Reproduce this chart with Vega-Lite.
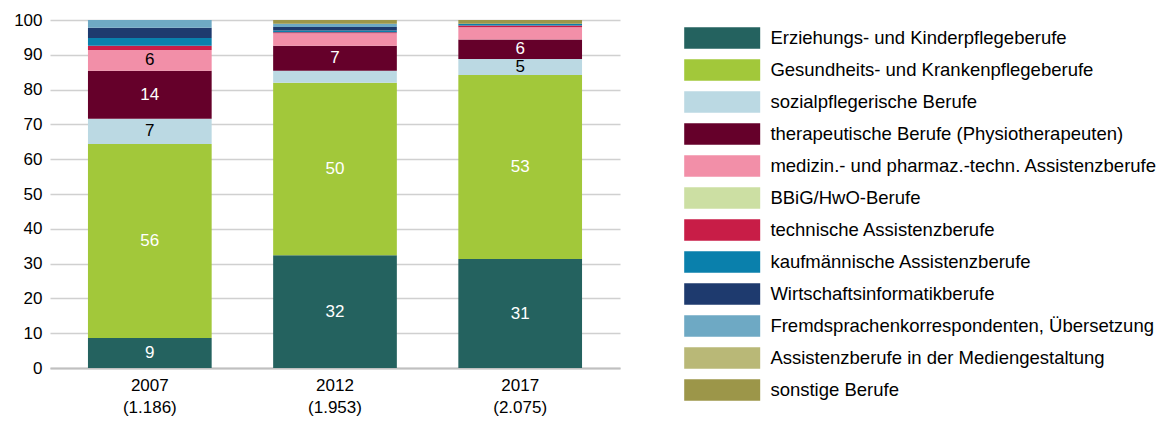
{
  "$schema": "https://vega.github.io/schema/vega-lite/v6.json",
  "autosize": {"type": "none"},
  "width": 570,
  "height": 348,
  "padding": {"left": 50, "top": 20, "right": 545, "bottom": 54},
  "background": "white",
  "config": {
    "font": "Liberation Sans",
    "view": {"stroke": null},
    "axisY": {
      "values": [0, 10, 20, 30, 40, 50, 60, 70, 80, 90, 100],
      "labelFontSize": 17,
      "labelColor": "#000000",
      "labelPadding": 8,
      "ticks": false,
      "domain": false,
      "gridColor": "#d0d0d0",
      "gridWidth": 1.5
    }
  },
  "data": {
    "values": [
      {"gruppe": "2007 (1.186)", "beruf": "Erziehungs- und Kinderpflegeberufe", "anteil": 8.6},
      {"gruppe": "2007 (1.186)", "beruf": "Gesundheits- und Krankenpflegeberufe", "anteil": 55.8},
      {"gruppe": "2007 (1.186)", "beruf": "sozialpflegerische Berufe", "anteil": 7.2},
      {"gruppe": "2007 (1.186)", "beruf": "therapeutische Berufe (Physiotherapeuten)", "anteil": 13.8},
      {"gruppe": "2007 (1.186)", "beruf": "medizin.- und pharmaz.-techn. Assistenzberufe", "anteil": 6.0},
      {"gruppe": "2007 (1.186)", "beruf": "technische Assistenzberufe", "anteil": 1.2},
      {"gruppe": "2007 (1.186)", "beruf": "kaufmännische Assistenzberufe", "anteil": 2.2},
      {"gruppe": "2007 (1.186)", "beruf": "Wirtschaftsinformatikberufe", "anteil": 3.0},
      {"gruppe": "2007 (1.186)", "beruf": "Fremdsprachenkorrespondenten, Übersetzung", "anteil": 2.2},
      {"gruppe": "2012 (1.953)", "beruf": "Erziehungs- und Kinderpflegeberufe", "anteil": 32.4},
      {"gruppe": "2012 (1.953)", "beruf": "Gesundheits- und Krankenpflegeberufe", "anteil": 49.6},
      {"gruppe": "2012 (1.953)", "beruf": "sozialpflegerische Berufe", "anteil": 3.4},
      {"gruppe": "2012 (1.953)", "beruf": "therapeutische Berufe (Physiotherapeuten)", "anteil": 7.2},
      {"gruppe": "2012 (1.953)", "beruf": "medizin.- und pharmaz.-techn. Assistenzberufe", "anteil": 3.6},
      {"gruppe": "2012 (1.953)", "beruf": "technische Assistenzberufe", "anteil": 0.3},
      {"gruppe": "2012 (1.953)", "beruf": "kaufmännische Assistenzberufe", "anteil": 0.5},
      {"gruppe": "2012 (1.953)", "beruf": "Wirtschaftsinformatikberufe", "anteil": 1.0},
      {"gruppe": "2012 (1.953)", "beruf": "Fremdsprachenkorrespondenten, Übersetzung", "anteil": 0.9},
      {"gruppe": "2012 (1.953)", "beruf": "sonstige Berufe", "anteil": 1.1},
      {"gruppe": "2017 (2.075)", "beruf": "Erziehungs- und Kinderpflegeberufe", "anteil": 31.3},
      {"gruppe": "2017 (2.075)", "beruf": "Gesundheits- und Krankenpflegeberufe", "anteil": 52.9},
      {"gruppe": "2017 (2.075)", "beruf": "sozialpflegerische Berufe", "anteil": 4.6},
      {"gruppe": "2017 (2.075)", "beruf": "therapeutische Berufe (Physiotherapeuten)", "anteil": 5.6},
      {"gruppe": "2017 (2.075)", "beruf": "medizin.- und pharmaz.-techn. Assistenzberufe", "anteil": 3.5},
      {"gruppe": "2017 (2.075)", "beruf": "technische Assistenzberufe", "anteil": 0.5},
      {"gruppe": "2017 (2.075)", "beruf": "kaufmännische Assistenzberufe", "anteil": 0.5},
      {"gruppe": "2017 (2.075)", "beruf": "sonstige Berufe", "anteil": 1.1}
    ]
  },
  "transform": [
    {"calculate": "indexof(['Erziehungs- und Kinderpflegeberufe','Gesundheits- und Krankenpflegeberufe','sozialpflegerische Berufe','therapeutische Berufe (Physiotherapeuten)','medizin.- und pharmaz.-techn. Assistenzberufe','BBiG/HwO-Berufe','technische Assistenzberufe','kaufmännische Assistenzberufe','Wirtschaftsinformatikberufe','Fremdsprachenkorrespondenten, Übersetzung','Assistenzberufe in der Mediengestaltung','sonstige Berufe'], datum.beruf)", "as": "ord"},
    {"stack": "anteil", "groupby": ["gruppe"], "sort": [{"field": "ord", "order": "ascending"}], "as": ["v0", "v1"]},
    {"calculate": "(datum.v0 + datum.v1) / 2", "as": "mid"}
  ],
  "encoding": {
    "x": {
      "field": "gruppe",
      "type": "nominal",
      "title": null,
      "scale": {"paddingInner": 0.332, "paddingOuter": 0.205},
      "axis": {
        "labelAngle": 0,
        "labelExpr": "split(datum.label, ' ')",
        "labelFontSize": 17,
        "labelColor": "#000000",
        "labelPadding": 9,
        "labelLineHeight": 22,
        "ticks": false,
        "domainColor": "#c0c0c0",
        "domainWidth": 2,
        "grid": false
      }
    }
  },
  "layer": [
    {
      "mark": {"type": "bar"},
      "encoding": {
        "y": {
          "field": "v0",
          "type": "quantitative",
          "title": null,
          "scale": {"domain": [0, 100]}
        },
        "y2": {"field": "v1"},
        "color": {
          "field": "beruf",
          "type": "nominal",
          "scale": {
            "domain": ["Erziehungs- und Kinderpflegeberufe", "Gesundheits- und Krankenpflegeberufe", "sozialpflegerische Berufe", "therapeutische Berufe (Physiotherapeuten)", "medizin.- und pharmaz.-techn. Assistenzberufe", "BBiG/HwO-Berufe", "technische Assistenzberufe", "kaufmännische Assistenzberufe", "Wirtschaftsinformatikberufe", "Fremdsprachenkorrespondenten, Übersetzung", "Assistenzberufe in der Mediengestaltung", "sonstige Berufe"],
            "range": ["#24625F", "#A2C83A", "#BBD9E3", "#65002A", "#F28FA8", "#CCDFA3", "#C81D47", "#0A80AC", "#1E3A6E", "#6EA9C4", "#B9B877", "#9C9649"]
          },
          "legend": {
            "title": null,
            "orient": "none",
            "legendX": 634,
            "legendY": 7,
            "padding": 0,
            "symbolType": "M-1,-1H6.04V1H-1Z",
            "symbolSize": 466,
            "symbolStrokeWidth": 0,
            "symbolOpacity": 1,
            "labelFontSize": 18.5,
            "labelColor": "#000000",
            "labelOffset": 64.4,
            "labelLimit": 500,
            "rowPadding": 10
          }
        },
        "order": {"field": "ord"}
      }
    },
    {
      "transform": [{"filter": "datum.anteil >= 4.5"}],
      "mark": {"type": "text", "fontSize": 17, "baseline": "middle", "align": "center"},
      "encoding": {
        "y": {"field": "mid", "type": "quantitative", "title": null},
        "text": {"field": "anteil", "type": "quantitative", "format": ".0f"},
        "color": {
          "condition": {"test": "datum.beruf == 'sozialpflegerische Berufe' || datum.beruf == 'medizin.- und pharmaz.-techn. Assistenzberufe'", "value": "#000000"},
          "value": "#ffffff"
        }
      }
    }
  ]
}
